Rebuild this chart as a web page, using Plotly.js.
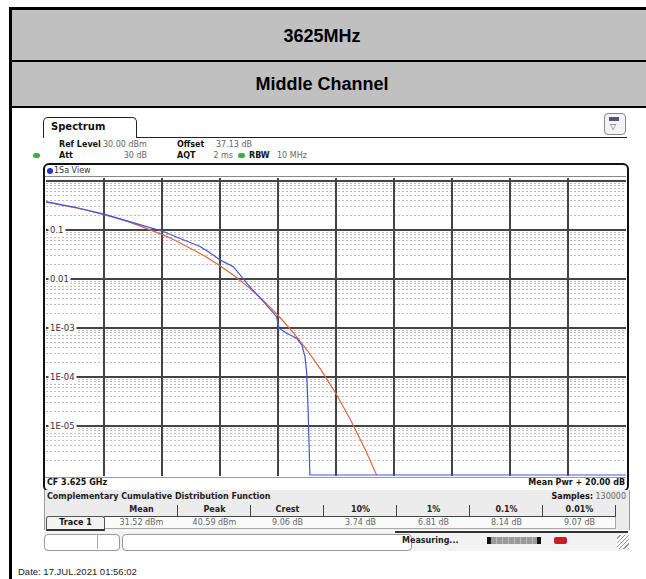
<!DOCTYPE html>
<html>
<head>
<meta charset="utf-8">
<script src="https://cdn.plot.ly/plotly-3.0.1.min.js"></script>
<style>
body{margin:0;width:646px;height:579px;position:relative;overflow:hidden;background:#fff;font-family:'DejaVu Sans',sans-serif;}
.a{position:absolute;white-space:nowrap;}
.t{font-size:8px;color:#111;line-height:10px;}
.b{font-weight:bold;}
.g{color:#666;}
#plot{position:absolute;left:0;top:0;width:646px;height:579px;z-index:5;}
</style>
</head>
<body>
<!-- header table -->
<div class="a" style="left:9px;top:7px;width:3px;height:572px;background:#000"></div>
<div class="a" style="left:9px;top:7px;width:637px;height:3px;background:#000"></div>
<div class="a" style="left:12px;top:10px;width:634px;height:50px;background:#c0c0c0"></div>
<div class="a" style="left:12px;top:60px;width:634px;height:2px;background:#000"></div>
<div class="a" style="left:12px;top:62px;width:634px;height:44px;background:#c0c0c0"></div>
<div class="a" style="left:12px;top:106px;width:634px;height:2px;background:#000"></div>
<div class="a" id="h1" style="left:222px;width:200px;top:26px;text-align:center;font:bold 18px 'Liberation Sans',Arial,sans-serif;color:#000"></div>
<div class="a" id="h2" style="left:222px;width:200px;top:74px;text-align:center;font:bold 18px 'Liberation Sans',Arial,sans-serif;color:#000"></div>

<!-- instrument chrome -->
<div class="a" style="left:43px;top:117px;width:92px;height:20px;border:1px solid #222;border-bottom:none;border-radius:5px 5px 0 0;background:#fff"></div>
<div class="a" style="left:136px;top:137px;width:491px;height:1px;background:#222"></div>
<div class="a t b" style="left:51px;top:121px;font-size:10px;line-height:12px">Spectrum</div>
<div class="a" style="left:604px;top:113px;width:20px;height:20px;border:1px solid #888;border-radius:4px;background:#f4f4f4"></div>
<div class="a" style="left:609px;top:117px;width:10px;height:4px;background:#55557a"></div>
<div class="a" style="left:610px;top:123px;font-size:8px;color:#555;line-height:8px">&#9661;</div>

<div class="a t b" style="left:59px;top:140px">Ref Level</div>
<div class="a t g" style="left:103px;top:140px" id="refl"></div>
<div class="a t b" style="left:177px;top:140px">Offset</div>
<div class="a t g" style="left:216px;top:140px" id="offs"></div>
<div class="a" style="left:33px;top:153px;width:7px;height:5px;border-radius:3px;background:#3cb043"></div>
<div class="a t b" style="left:59px;top:151px">Att</div>
<div class="a t g" style="left:100px;width:47px;text-align:right;top:151px" id="att"></div>
<div class="a t b" style="left:177px;top:151px">AQT</div>
<div class="a t g" style="left:200px;width:33px;text-align:right;top:151px" id="aqt"></div>
<div class="a" style="left:238px;top:153px;width:7px;height:5px;border-radius:3px;background:#3cb043"></div>
<div class="a t b" style="left:249px;top:151px">RBW</div>
<div class="a t g" style="left:277px;top:151px" id="rbw"></div>

<div class="a" style="left:43px;top:163px;width:582px;height:325px;border:2px solid #111;border-radius:6px"></div>
<div class="a" style="left:45px;top:176px;width:581px;height:1px;background:#888"></div>
<div class="a" style="left:47px;top:168px;width:6px;height:6px;border-radius:3px;background:#2233cc"></div>
<div class="a t" style="left:54px;top:166px;color:#333">1Sa View</div>
<div class="a" style="left:45px;top:477px;width:581px;height:1px;background:#999"></div>
<div class="a t b" style="left:47px;top:478px" id="cf"></div>
<div class="a t b" style="left:480px;width:145px;text-align:right;top:478px" id="span"></div>

<!-- CCDF panel -->
<div class="a" style="left:44px;top:490px;width:584px;height:40px;background:#ececec;border-left:1px solid #999;border-right:1px solid #999"></div>
<div class="a t b" style="left:47px;top:492px;color:#222">Complementary Cumulative Distribution Function</div>
<div class="a t" style="left:480px;width:146px;text-align:right;top:492px"><b>Samples:</b> <span class="g" id="samp"></span></div>
<div class="a" style="left:104px;top:516px;width:512px;height:1px;background:#444"></div>
<div class="a" style="left:104px;top:517px;width:511px;height:11px;background:#fafafa;border-right:1px solid #aaa;border-bottom:1px solid #aaa"></div>
<div class="a" style="left:46px;top:516px;width:57px;height:12px;border:1px solid #555;border-bottom:2px solid #333;border-radius:3px 3px 0 0;background:#f4f4f4"></div>
<div class="a t b" style="left:46px;width:59px;text-align:center;top:518px">Trace 1</div>
<div id="tbl"></div>

<!-- status bar -->
<div class="a" style="left:44px;top:531px;width:584px;height:20px;background:#f2f2f2"></div>
<div class="a" style="left:395px;top:531px;width:233px;height:2px;background:#333"></div>
<div class="a" style="left:44px;top:534px;width:74px;height:15px;border:1px solid #999;border-radius:4px;background:#fff"></div>
<div class="a" style="left:97px;top:534px;width:1px;height:15px;background:#aaa"></div>
<div class="a" style="left:122px;top:534px;width:288px;height:15px;border:1px solid #999;border-radius:4px;background:#fff"></div>
<div class="a t b" style="left:402px;top:536px;color:#222">Measuring...</div>
<div class="a" style="left:487px;top:537px;width:54px;height:7px;background:repeating-linear-gradient(90deg,#999 0 5px,#bbb 5px 6px);border-left:4px solid #111;border-right:4px solid #111;box-sizing:border-box"></div>
<div class="a" style="left:554px;top:537px;width:13px;height:7px;background:#cc1a22;border-radius:2px"></div>
<div class="a" style="left:617px;top:535px;width:12px;height:14px;background:repeating-linear-gradient(135deg,#fff 0 2px,#999 2px 3px)"></div>

<div class="a" style="left:18px;top:566px;font:9.5px 'Liberation Sans',Arial,sans-serif;color:#222" id="date"></div>

<div id="plot"></div>
<script>
// ---------- data ----------
const titleRow1 = "3625MHz";
const titleRow2 = "Middle Channel";
const refLevel = "30.00 dBm", offset = "37.13 dB", att = "30 dB", aqt = "2 ms", rbw = "10 MHz";
const cfLabel = "CF 3.625 GHz";
const spanLabel = "Mean Pwr + 20.00 dB";
const samples = "130000";
const dateText = "Date: 17.JUL.2021  01:56:02";

const statHeaders = ["Mean", "Peak", "Crest", "10%", "1%", "0.1%", "0.01%"];
const statValues  = ["31.52 dBm", "40.59 dBm", "9.06 dB", "3.74 dB", "6.81 dB", "8.14 dB", "9.07 dB"];

// Gaussian reference trace (red): dB above mean power vs probability
const refX = [0, 0.5, 1, 1.5, 2, 2.5, 3, 3.5, 4, 4.5, 5, 5.5, 6, 6.5, 7, 7.5, 8, 8.5, 9, 9.5, 10, 10.5, 11, 11.4];
const refY = [0.368, 0.326, 0.284, 0.2435, 0.205, 0.169, 0.136, 0.1066, 0.0811, 0.0597, 0.0423, 0.0288, 0.0187, 0.0115, 0.00666, 0.00361, 0.00182, 0.000842, 0.000355, 0.000135, 0.0000454, 0.0000134, 0.0000034, 0.000001];

// measured trace 1 (blue)
const traceX = [0, 1, 2, 3, 4, 4.5, 5, 5.31, 5.6, 6, 6.46, 7.03, 7.49, 7.95, 8.04, 8.3, 8.64, 8.82, 8.93, 8.99, 9.04, 9.08, 9.1, 12, 16, 20];
const traceY = [0.38, 0.29, 0.21, 0.14, 0.095, 0.072, 0.054, 0.046, 0.036, 0.0245, 0.0178, 0.0069, 0.0035, 0.0017, 0.00098, 0.00078, 0.00062, 0.00045, 0.00026, 0.00012, 0.00002, 0.000004, 0.000001, 0.000001, 0.000001, 0.000001];

const yTickVals = [0.1, 0.01, 0.001, 0.0001, 0.00001];
const yTickText = ["0.1", "0.01", "1E-03", "1E-04", "1E-05"];

// ---------- texts ----------
document.getElementById('h1').textContent = titleRow1;
document.getElementById('h2').textContent = titleRow2;
document.getElementById('refl').textContent = refLevel;
document.getElementById('offs').textContent = offset;
document.getElementById('att').textContent = att;
document.getElementById('aqt').textContent = aqt;
document.getElementById('rbw').textContent = rbw;
document.getElementById('cf').textContent = cfLabel;
document.getElementById('span').textContent = spanLabel;
document.getElementById('samp').textContent = samples;
document.getElementById('date').textContent = dateText;

const tbl = document.getElementById('tbl');
const colL = 105, colW = 73;
statHeaders.forEach((h, i) => {
  const x = colL + i * colW;
  let d = document.createElement('div');
  d.className = 'a t b'; d.style.cssText = `left:${x}px;width:${colW}px;text-align:center;top:505px;color:#222`;
  d.textContent = h; tbl.appendChild(d);
  d = document.createElement('div');
  d.className = 'a t g'; d.style.cssText = `left:${x}px;width:${colW}px;text-align:center;top:518px`;
  d.textContent = statValues[i]; tbl.appendChild(d);
  d = document.createElement('div');
  d.className = 'a'; d.style.cssText = `left:${x + colW - 1}px;top:505px;width:1px;height:11px;background:#444`;
  tbl.appendChild(d);
});

// ---------- plot ----------
const traces = [
  {x: refX, y: refY, type: 'scatter', mode: 'lines', line: {color: '#e2643f', width: 1.2}, hoverinfo: 'skip'},
  {x: traceX, y: traceY, type: 'scatter', mode: 'lines', line: {color: '#4256da', width: 1.2}, hoverinfo: 'skip'}
];
const annotations = yTickVals.map((v, i) => ({
  xref: 'paper', x: 0, xanchor: 'left', xshift: 2,
  yref: 'y', y: Math.log10(v), yanchor: 'middle',
  text: yTickText[i], showarrow: false, bgcolor: '#ffffff',
  font: {family: 'DejaVu Sans', size: 8.5, color: '#333'}, borderpad: 1
}));
const layout = {
  width: 646, height: 579,
  margin: {l: 46, r: 20, t: 178, b: 103, pad: 0},
  paper_bgcolor: 'rgba(0,0,0,0)', plot_bgcolor: '#ffffff',
  showlegend: false,
  xaxis: {range: [0, 20], tick0: 0, dtick: 2, showticklabels: false, ticks: '',
          showgrid: true, gridcolor: '#444', gridwidth: 1.3, zeroline: false, showline: false, fixedrange: true},
  yaxis: {type: 'log', range: [-6.02, 0.06], dtick: 1, showticklabels: false, ticks: '',
          showgrid: true, gridcolor: '#444', gridwidth: 1.3, zeroline: false, showline: false, fixedrange: true,
          minor: {dtick: 'D1', showgrid: true, gridcolor: '#bdbdbd', griddash: '2px,2px', gridwidth: 1, ticks: ''}},
  annotations: annotations
};
Plotly.newPlot('plot', traces, layout, {staticPlot: true, displayModeBar: false});
</script>
</body>
</html>
